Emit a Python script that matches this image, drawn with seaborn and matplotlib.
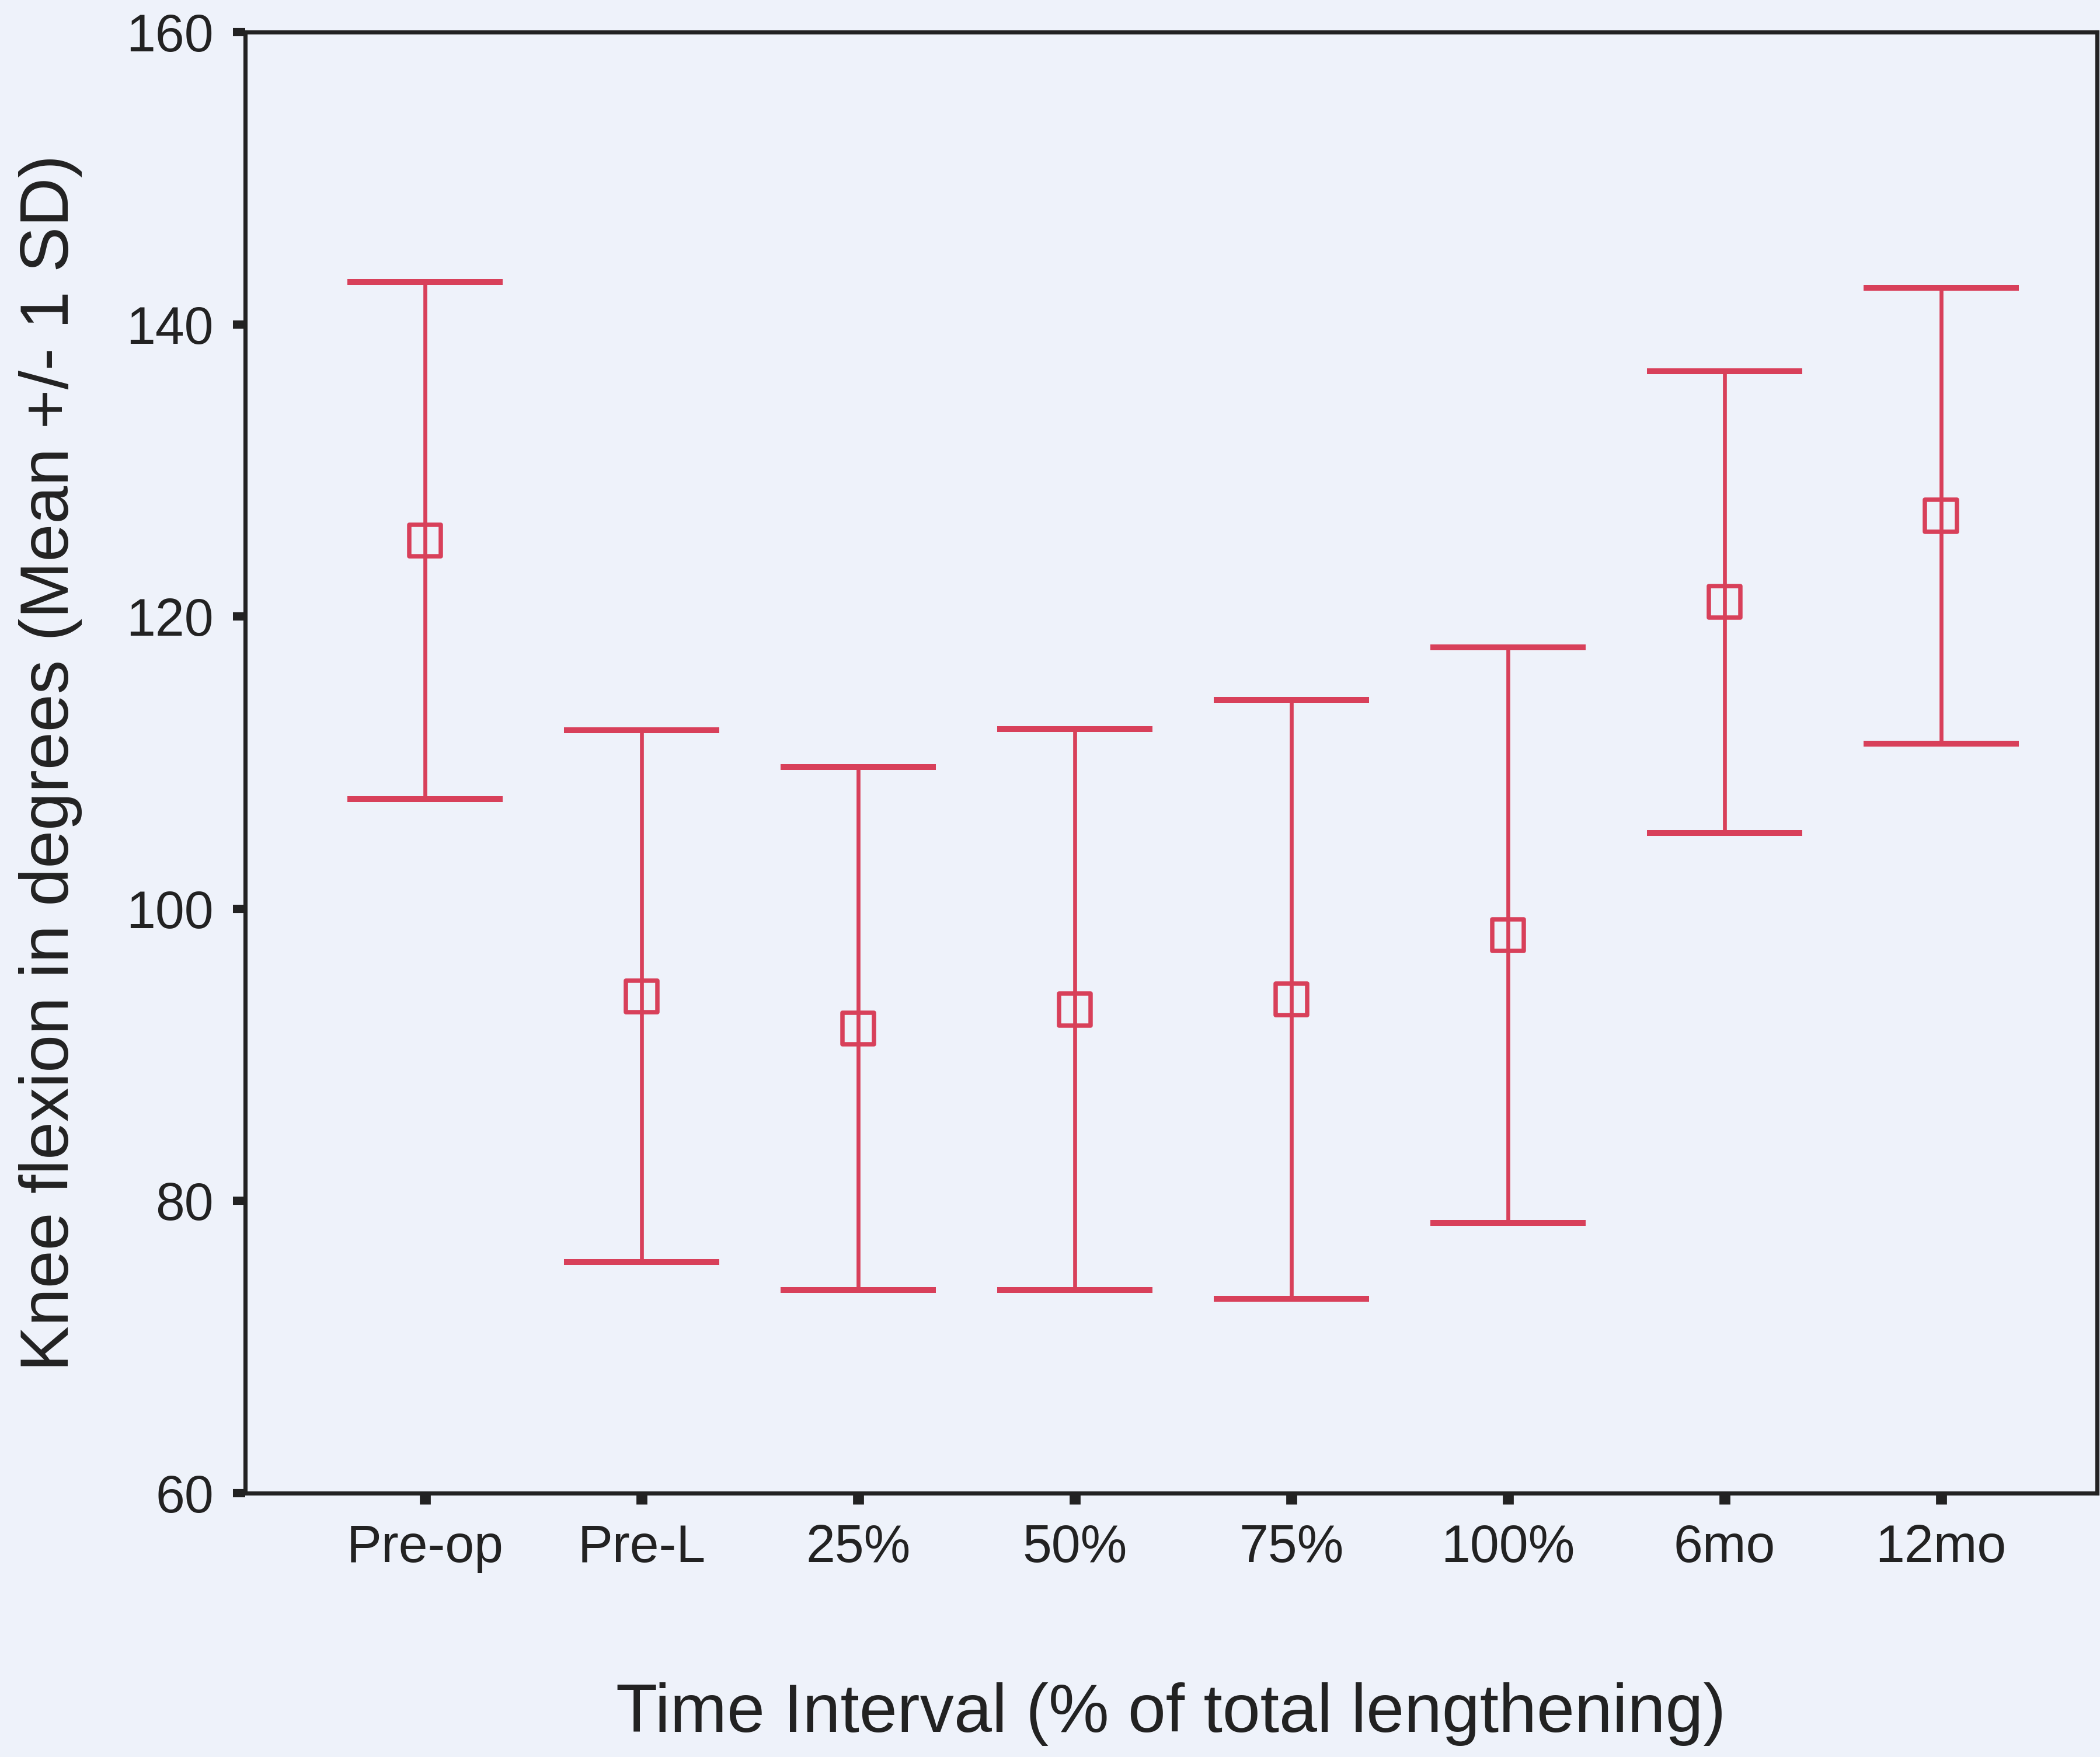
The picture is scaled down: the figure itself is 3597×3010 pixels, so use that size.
import numpy as np
import pandas as pd
import matplotlib
matplotlib.use("Agg")
import matplotlib.pyplot as plt
import seaborn as sns

# ---- data ----
categories = ["Pre-op", "Pre-L", "25%", "50%", "75%", "100%", "6mo", "12mo"]
means = [125.2, 94.0, 91.8, 93.1, 93.8, 98.2, 121.0, 126.9]
sds = [17.7, 18.2, 17.9, 19.2, 20.5, 19.7, 15.8, 15.6]
y_ticks = [60, 80, 100, 120, 140, 160]
x_label = "Time Interval (% of total lengthening)"
y_label = "Knee flexion in degrees (Mean +/- 1 SD)"

df = pd.DataFrame({"interval": categories, "mean": means, "sd": sds})

bg = "#EEF2FA"
red = "#D8405A"
ink = "#222222"

sns.set_theme(style="ticks")
plt.rcParams["font.family"] = ["Liberation Sans", "DejaVu Sans"]

fig = plt.figure(figsize=(3597 / 300, 3010 / 300), dpi=300, facecolor=bg)
ax = fig.add_axes([0.1168, 0.1502, 0.9985 - 0.1168, 0.9817 - 0.1502])
ax.set_facecolor(bg)

pos = np.arange(len(categories))
ax.errorbar(pos, df["mean"], yerr=df["sd"], fmt="none", ecolor=red,
            elinewidth=1.6, capsize=32, capthick=2.4, zorder=2)
sns.scatterplot(data=df, x="interval", y="mean", marker="s", s=13 ** 2,
                facecolor="none", edgecolor=red, linewidth=1.8, ax=ax,
                zorder=3, legend=False)

ax.set_xlim(-0.83, 7.72)
ax.set_ylim(60, 160)
ax.set_yticks(y_ticks)
ax.set_xticks(pos)
ax.set_xticklabels(categories)

for s in ax.spines.values():
    s.set_visible(True)
    s.set_color(ink)
    s.set_linewidth(1.7)

ax.tick_params(axis="y", direction="out", length=5, width=3.4, color=ink,
               labelsize=21.5, labelcolor=ink, pad=8)
ax.tick_params(axis="x", direction="out", length=4.5, width=4.5, color=ink,
               labelsize=21.5, labelcolor=ink, pad=8)

ax.set_xlabel(x_label, fontsize=28, color=ink, labelpad=45)
ax.set_ylabel(y_label, fontsize=28, color=ink, labelpad=18)
ax.grid(False)

fig.savefig("out.png", dpi=300, facecolor=bg)
